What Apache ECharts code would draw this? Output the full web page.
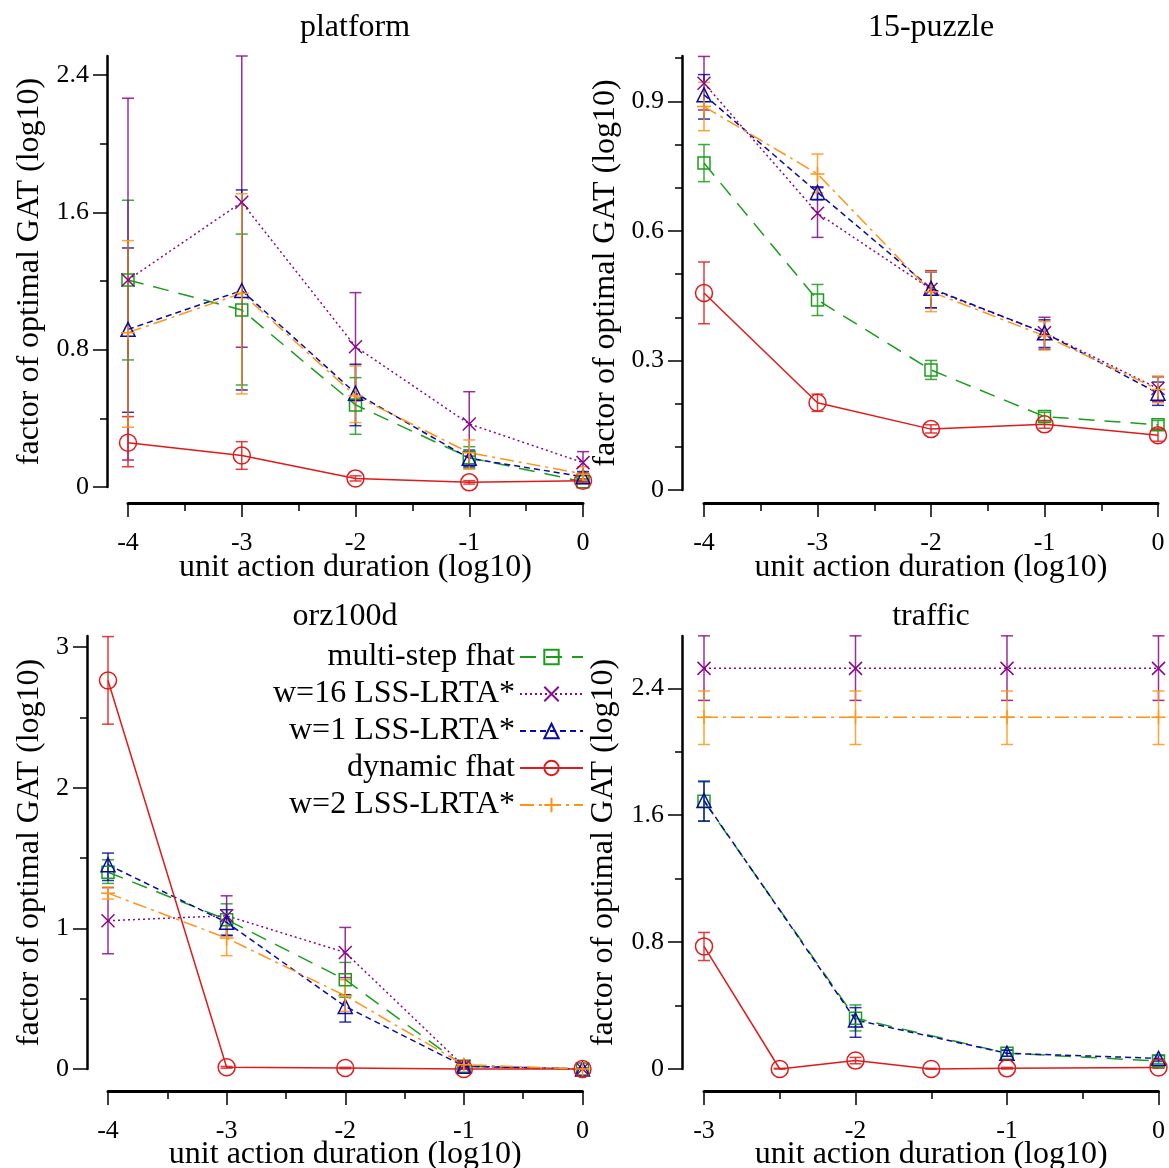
<!DOCTYPE html>
<html><head><meta charset="utf-8">
<script src="https://cdn.jsdelivr.net/npm/echarts@6/dist/echarts.min.js"></script>
<style>html,body{margin:0;padding:0;background:#fff}#c{width:1169px;height:1168px}</style>
</head><body><div id="c"></div>
<script>
// ---------- labels ----------
const seriesNames = ['multi-step fhat', 'w=16 LSS-LRTA*', 'w=1 LSS-LRTA*', 'dynamic fhat', 'w=2 LSS-LRTA*'];
const panelTitles = ['platform', '15-puzzle', 'orz100d', 'traffic'];
const xTitle = 'unit action duration (log10)';
const yTitle = 'factor of optimal GAT (log10)';

// ---------- x values ----------
const xPlatform = [-4, -3, -2, -1, 0];
const xPuzzle = [-4, -3, -2, -1, 0];
const xOrz = [-4, -3, -2, -1, 0];
const xTraffic = [-3, -2, -1, 0];
const xTrafficDynamic = [-3, -2.5, -2, -1.5, -1, 0];

// ---------- tick labels ----------
const yTicksPlatform = [0, 0.8, 1.6, 2.4];
const yMinorPlatform = [0.4, 1.2, 2.0];
const yTicksPuzzle = [0, 0.3, 0.6, 0.9];
const yMinorPuzzle = [0.1, 0.2, 0.4, 0.5, 0.7, 0.8, 1.0];
const yTicksOrz = [0, 1, 2, 3];
const yMinorOrz = [0.5, 1.5, 2.5];
const yTicksTraffic = [0, 0.8, 1.6, 2.4];
const yMinorTraffic = [0.4, 1.2, 2.0];

// ---------- platform ----------
const platMulti = [1.206, 1.031, 0.478, 0.171, 0.031];
const platMultiLo = [0.74, 0.594, 0.307, 0.11, 0.02];
const platMultiHi = [1.67, 1.473, 0.637, 0.235, 0.045];
const platW16 = [1.206, 1.658, 0.817, 0.367, 0.142];
const platW16Lo = [0.157, 0.814, 0.502, 0.18, 0.08];
const platW16Hi = [2.264, 2.51, 1.132, 0.555, 0.206];
const platW1 = [0.918, 1.144, 0.546, 0.167, 0.06];
const platW1Lo = [0.435, 0.565, 0.357, 0.118, 0.035];
const platW1Hi = [1.392, 1.73, 0.715, 0.215, 0.09];
const platDyn = [0.258, 0.183, 0.05, 0.027, 0.037];
const platDynLo = [0.118, 0.103, 0.035, 0.017, 0.027];
const platDynHi = [0.41, 0.264, 0.065, 0.037, 0.047];
const platW2 = [0.899, 1.128, 0.53, 0.2, 0.076];
const platW2Lo = [0.348, 0.542, 0.375, 0.103, 0.04];
const platW2Hi = [1.435, 1.708, 0.705, 0.274, 0.118];

// ---------- 15-puzzle ----------
const puzMulti = [0.757, 0.44, 0.278, 0.17, 0.151];
const puzMultiLo = [0.714, 0.404, 0.256, 0.16, 0.141];
const puzMultiHi = [0.80, 0.476, 0.30, 0.18, 0.161];
const puzW16 = [0.942, 0.641, 0.465, 0.364, 0.235];
const puzW16Lo = [0.88, 0.585, 0.422, 0.326, 0.205];
const puzW16Hi = [1.004, 0.70, 0.508, 0.40, 0.262];
const puzW1 = [0.915, 0.689, 0.467, 0.364, 0.224];
const puzW1Lo = [0.859, 0.672, 0.422, 0.33, 0.196];
const puzW1Hi = [0.962, 0.702, 0.505, 0.394, 0.25];
const puzDyn = [0.456, 0.202, 0.141, 0.152, 0.127];
const puzDynLo = [0.385, 0.182, 0.132, 0.143, 0.113];
const puzDynHi = [0.528, 0.222, 0.151, 0.161, 0.141];
const puzW2 = [0.888, 0.732, 0.459, 0.357, 0.233];
const puzW2Lo = [0.832, 0.688, 0.413, 0.324, 0.202];
const puzW2Hi = [0.944, 0.778, 0.506, 0.39, 0.264];

// ---------- orz100d ----------
const orzMulti = [1.40, 1.062, 0.635, 0.02, 0.0];
const orzMultiLo = [1.32, 0.95, 0.51, 0.01, 0.0];
const orzMultiHi = [1.488, 1.175, 0.758, 0.03, 0.005];
const orzW16 = [1.055, 1.09, 0.829, 0.02, 0.0];
const orzW16Lo = [0.82, 0.95, 0.65, 0.01, 0.0];
const orzW16Hi = [1.29, 1.232, 1.007, 0.03, 0.005];
const orzW1 = [1.453, 1.043, 0.445, 0.02, 0.0];
const orzW1Lo = [1.341, 0.95, 0.334, 0.01, 0.0];
const orzW1Hi = [1.536, 1.133, 0.528, 0.03, 0.005];
const orzDyn = [2.763, 0.012, 0.007, 0.0, 0.0];
const orzDynLo = [2.453, 0.006, 0.002, 0.0, 0.0];
const orzDynHi = [3.076, 0.018, 0.012, 0.004, 0.004];
const orzW2 = [1.251, 0.931, 0.521, 0.03, 0.0];
const orzW2Lo = [1.209, 0.806, 0.41, 0.02, 0.0];
const orzW2Hi = [1.294, 1.05, 0.635, 0.04, 0.005];

// ---------- traffic ----------
const trafMulti = [1.688, 0.32, 0.10, 0.05];
const trafMultiLo = [1.565, 0.24, 0.08, 0.035];
const trafMultiHi = [1.81, 0.404, 0.12, 0.065];
const trafW16 = [2.526, 2.526, 2.526, 2.526];
const trafW16Lo = [2.324, 2.324, 2.324, 2.324];
const trafW16Hi = [2.731, 2.731, 2.731, 2.731];
const trafW1 = [1.693, 0.309, 0.099, 0.067];
const trafW1Lo = [1.562, 0.20, 0.08, 0.05];
const trafW1Hi = [1.815, 0.387, 0.118, 0.085];
const trafDyn = [0.773, 0.0, 0.053, 0.0, 0.004, 0.01];
const trafDynLo = [0.684, 0.0, 0.033, 0.0, 0.0, 0.005];
const trafDynHi = [0.861, 0.004, 0.073, 0.004, 0.01, 0.015];
const trafW2 = [2.217, 2.217, 2.217, 2.217];
const trafW2Lo = [2.046, 2.046, 2.046, 2.046];
const trafW2Hi = [2.383, 2.383, 2.383, 2.383];

// ---------- styling ----------
const FONT = "'Liberation Serif', 'Times New Roman', serif";
const COLORS = ['#1a9e1a', '#880a88', '#0a0aa6', '#e01a1a', '#ff9414'];
const DASH = [[16, 10], [2, 3], [6, 4], 'solid', [14, 5, 3, 5]];
const SYMBOLS = ['rect', 'path://M0,0L10,10M10,0L0,10', 'triangle', 'circle', 'path://M5,0L5,10M0,5L10,5'];
const SYMSIZE = [12, 13, 14, 17, 14];

const panels = [
  { title: panelTitles[0], tx: 355, ty: 28, grid: { left: 128, top: 56, width: 455, height: 431 },
    xmin: -4, ymax: 2.51, yInt: 0.8, yTicks: yTicksPlatform, yMinor: yMinorPlatform,
    yOff: 21, xOff: 16, xGap: 49, yGap: 61,
    xs: [xPlatform, xPlatform, xPlatform, xPlatform, xPlatform],
    mean: [platMulti, platW16, platW1, platDyn, platW2],
    lo: [platMultiLo, platW16Lo, platW1Lo, platDynLo, platW2Lo],
    hi: [platMultiHi, platW16Hi, platW1Hi, platDynHi, platW2Hi] },
  { title: panelTitles[1], tx: 931, ty: 28, grid: { left: 704, top: 56, width: 454, height: 434 },
    xmin: -4, ymax: 1.005, yInt: 0.3, yTicks: yTicksPuzzle, yMinor: yMinorPuzzle,
    yOff: 22, xOff: 13, xGap: 49, yGap: 60,
    xs: [xPuzzle, xPuzzle, xPuzzle, xPuzzle, xPuzzle],
    mean: [puzMulti, puzW16, puzW1, puzDyn, puzW2],
    lo: [puzMultiLo, puzW16Lo, puzW1Lo, puzDynLo, puzW2Lo],
    hi: [puzMultiHi, puzW16Hi, puzW1Hi, puzDynHi, puzW2Hi] },
  { title: panelTitles[2], tx: 345, ty: 617, grid: { left: 108, top: 636, width: 474.5, height: 433 },
    xmin: -4, ymax: 3.08, yInt: 1, yTicks: yTicksOrz, yMinor: yMinorOrz,
    yOff: 21, xOff: 22, xGap: 48, yGap: 41,
    xs: [xOrz, xOrz, xOrz, xOrz, xOrz],
    mean: [orzMulti, orzW16, orzW1, orzDyn, orzW2],
    lo: [orzMultiLo, orzW16Lo, orzW1Lo, orzDynLo, orzW2Lo],
    hi: [orzMultiHi, orzW16Hi, orzW1Hi, orzDynHi, orzW2Hi] },
  { title: panelTitles[3], tx: 931, ty: 617, grid: { left: 704, top: 636, width: 454.5, height: 433 },
    xmin: -3, ymax: 2.73, yInt: 0.8, yTicks: yTicksTraffic, yMinor: yMinorTraffic,
    yOff: 22, xOff: 22, xGap: 48, yGap: 62,
    xs: [xTraffic, xTraffic, xTraffic, xTrafficDynamic, xTraffic],
    mean: [trafMulti, trafW16, trafW1, trafDyn, trafW2],
    lo: [trafMultiLo, trafW16Lo, trafW1Lo, trafDynLo, trafW2Lo],
    hi: [trafMultiHi, trafW16Hi, trafW1Hi, trafDynHi, trafW2Hi] }
];

const grids = [], xAxes = [], yAxes = [], lineSeries = [], errSeries = [], graphics = [];
const txt = { fontFamily: FONT, color: '#000' };
const N = panels.length;

panels.forEach((p, i) => {
  grids[i] = Object.assign({ containLabel: false, outerBoundsMode: 'none' }, p.grid);
  grids[N + i] = Object.assign({ containLabel: false, outerBoundsMode: 'none' }, p.grid);
  graphics.push({ type: 'text', x: p.tx, y: p.ty,
    style: { text: p.title, font: '32px ' + FONT, fill: '#000', textAlign: 'center', textVerticalAlign: 'middle' } });
  xAxes[i] = {
    type: 'value', gridIndex: i, min: p.xmin, max: 0, interval: 1, position: 'bottom', offset: p.xOff,
    axisLine: { show: true, onZero: false, lineStyle: { color: '#000', width: 3 } },
    axisTick: { show: true, length: 14, lineStyle: { color: '#000', width: 1.5 } },
    minorTick: { show: true, splitNumber: 2, length: 8, lineStyle: { color: '#000', width: 1.5 } },
    splitLine: { show: false }, minorSplitLine: { show: false },
    axisLabel: Object.assign({ fontSize: 26, margin: 27 }, txt),
    name: xTitle, nameLocation: 'middle', nameGap: p.xGap, nameMoveOverlap: false,
    nameTextStyle: Object.assign({ fontSize: 32 }, txt)
  };
  xAxes[N + i] = { type: 'value', gridIndex: N + i, min: p.xmin, max: 0, show: false };
  yAxes[i] = {
    type: 'value', gridIndex: i, min: 0, max: p.ymax, interval: p.yInt, position: 'left', offset: p.yOff,
    axisLine: { show: true, onZero: false, lineStyle: { color: '#000', width: 2.5 } },
    axisTick: { show: true, length: 14, customValues: p.yTicks, lineStyle: { color: '#000', width: 1.5 } },
    splitLine: { show: false },
    axisLabel: Object.assign({ fontSize: 26, margin: 18, customValues: p.yTicks,
      formatter: v => String(p.yTicks.find(t => Math.abs(t - v) < 1e-9) ?? v) }, txt),
    name: yTitle, nameLocation: 'middle', nameGap: p.yGap, nameRotate: 90, nameMoveOverlap: false,
    nameTextStyle: Object.assign({ fontSize: 32 }, txt)
  };
  yAxes[N + i] = {
    type: 'value', gridIndex: N + i, min: 0, max: p.ymax, position: 'left', offset: p.yOff,
    axisLine: { show: false, onZero: false }, axisLabel: { show: false }, splitLine: { show: false },
    axisTick: { show: true, length: 7, customValues: p.yMinor, lineStyle: { color: '#000', width: 1.5 } }
  };
  for (let s = 0; s < 5; s++) {
    const xs = p.xs[s], m = p.mean[s], lo = p.lo[s], hi = p.hi[s];
    const color = COLORS[s];
    lineSeries.push({
      type: 'line', name: seriesNames[s], xAxisIndex: i, yAxisIndex: i,
      data: xs.map((x, k) => [x, m[k]]),
      symbol: SYMBOLS[s], symbolSize: SYMSIZE[s], showAllSymbol: true,
      lineStyle: { color: color, width: 1.5, type: DASH[s] },
      itemStyle: { color: 'rgba(0,0,0,0)', borderColor: color, borderWidth: 1.5 },
      emphasis: { disabled: true }, clip: false, z: 3, animation: false
    });
    errSeries.push({
      type: 'custom', name: seriesNames[s] + ' err', xAxisIndex: i, yAxisIndex: i,
      data: xs.map((x, k) => [x, lo[k], hi[k]]),
      renderItem: (params, api) => {
        const x = api.value(0);
        const a = api.coord([x, api.value(2)]), b = api.coord([x, api.value(1)]);
        const w = 6;
        const st = { stroke: color, lineWidth: 1.5, opacity: 0.85 };
        return { type: 'group', children: [
          { type: 'line', shape: { x1: a[0], y1: a[1], x2: b[0], y2: b[1] }, style: st },
          { type: 'line', shape: { x1: a[0] - w, y1: a[1], x2: a[0] + w, y2: a[1] }, style: st },
          { type: 'line', shape: { x1: b[0] - w, y1: b[1], x2: b[0] + w, y2: b[1] }, style: st }
        ] };
      },
      clip: false, silent: true, z: 2, animation: false
    });
  }
});

const chart = echarts.init(document.getElementById('c'), null, { renderer: 'canvas' });
chart.setOption({
  backgroundColor: '#fff',
  animation: false,
  grid: grids, xAxis: xAxes, yAxis: yAxes,
  legend: {
    data: seriesNames, orient: 'vertical', align: 'right', right: 580, top: 636,
    itemWidth: 63, itemHeight: 18, itemGap: 5, selectedMode: false,
    textStyle: { fontSize: 32, fontFamily: FONT, color: '#000' }
  },
  graphic: graphics,
  series: lineSeries.concat(errSeries)
});
</script>
</body></html>
